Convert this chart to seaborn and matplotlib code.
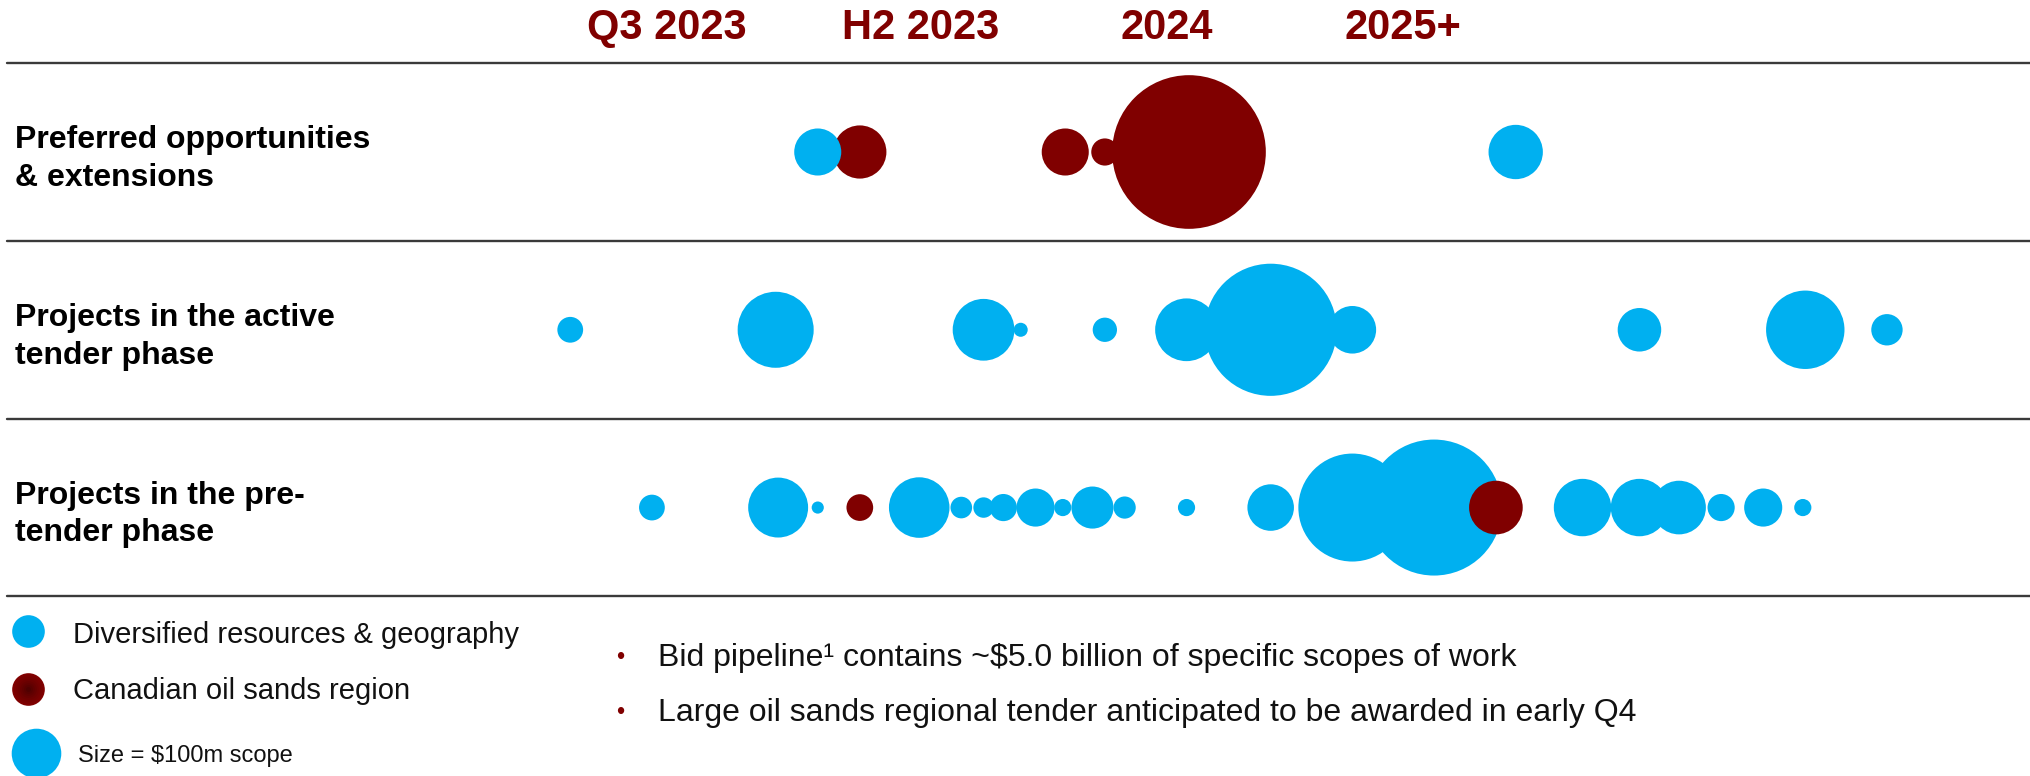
import numpy as np
import pandas as pd
import matplotlib
matplotlib.use("Agg")
import matplotlib.pyplot as plt
import seaborn as sns

sns.set_theme(style="white")
plt.rcParams["font.family"] = ["Liberation Sans", "DejaVu Sans"]

# ---- data -------------------------------------------------------------
periods = ["Q3 2023", "H2 2023", "2024", "2025+"]
period_pos = [0.0, 1.027, 2.021, 2.973]

stages = ["Preferred opportunities\n& extensions",
          "Projects in the active\ntender phase",
          "Projects in the pre-\ntender phase"]

# timing position, scope ($m) and region for each bid, listed in drawing order
pref_timing = [0.78, 0.61, 1.61, 1.77, 2.11, 3.43]
pref_scope = [115, 90, 90, 30, 960, 120]
pref_region = ["oil", "div", "oil", "oil", "oil", "div"]

active_timing = [-0.39, 0.44, 1.28, 1.43, 1.77, 2.10, 2.44, 2.77, 3.93, 4.60, 4.93]
active_scope = [27, 235, 155, 8, 24, 160, 710, 92, 77, 250, 40]
active_region = ["div"] * 11

pre_timing = [-0.06, 0.45, 0.61, 0.78, 1.02, 1.19, 1.28, 1.36, 1.49, 1.60, 1.72,
              1.85, 2.10, 2.44, 2.77, 3.10, 3.35, 3.70, 3.93, 4.09, 4.26, 4.43, 4.59]
pre_scope = [27, 146, 6, 29, 149, 19, 17, 30, 59, 12, 72,
             20, 12, 88, 474, 752, 117, 134, 134, 117, 30, 59, 12]
pre_region = ["div", "div", "div", "oil", "div", "div", "div", "div", "div", "div", "div",
              "div", "div", "div", "div", "div", "oil", "div", "div", "div", "div", "div", "div"]

region_labels = {"div": "Diversified resources & geography",
                 "oil": "Canadian oil sands region"}
region_colors = {"div": "#00B0F0", "oil": "#800000"}
legend_scope = 100

bullets = ["Bid pipeline\u00b9 contains ~$5.0 billion of specific scopes of work",
           "Large oil sands regional tender anticipated to be awarded in early Q4"]

# ---- assemble ---------------------------------------------------------
frames = []
for i, (t, s, r) in enumerate([(pref_timing, pref_scope, pref_region),
                               (active_timing, active_scope, active_region),
                               (pre_timing, pre_scope, pre_region)]):
    frames.append(pd.DataFrame({"timing": t, "scope": s, "region": r, "stage": i}))
df = pd.concat(frames, ignore_index=True)

W, H, DPI = 2031, 776, 100
fig = plt.figure(figsize=(W / DPI, H / DPI), dpi=DPI)
ax = fig.add_axes([0, 0, 1, 1])
ax.set_xlim(-2.694, 5.512)
ax.set_ylim(3.510, -0.855)
ax.axis("off")

# bubble area proportional to scope: points^2 per $m
k = 12.75
vmin, vmax = df["scope"].min(), df["scope"].max()
sns.scatterplot(data=df, x="timing", y="stage", hue="region", palette=region_colors,
                size="scope", sizes=(k * vmin, k * vmax), size_norm=(vmin, vmax),
                linewidth=0, alpha=1, legend=False, ax=ax, zorder=3)

# row dividers
for yb in [-0.5, 0.5, 1.5, 2.5]:
    ax.axhline(yb, xmin=7 / W, xmax=1, color="#3a3a3a", lw=1.7, zorder=1)

# period headers
for p, x in zip(periods, period_pos):
    ax.text(x, -0.70, p, ha="center", va="center", fontsize=30,
            fontweight="bold", color="#800000")

# stage labels
ytr = ax.get_yaxis_transform()
for i, lab in enumerate(stages):
    ax.text(15 / W, i + 0.04, lab, transform=ytr, ha="left", va="center",
            fontsize=23, fontweight="bold", color="black", linespacing=1.32)

# legend
tA = ax.transAxes
ax.scatter([27.7 / W], [1 - 631 / H], s=552, color=region_colors["div"],
           linewidth=0, transform=tA)
# oil sands marker with a darker core
core = np.linspace(1, 0.15, 8)
for j, f in enumerate(core):
    c = np.array([0.5, 0, 0]) * (0.45 + 0.55 * (f ** 0.6))
    ax.scatter([27.7 / W], [1 - 689.3 / H], s=552 * f ** 2, color=c,
               linewidth=0, transform=tA, zorder=4 + j)
ax.scatter([36 / W], [1 - 753.3 / H], s=k * legend_scope, color=region_colors["div"],
           linewidth=0, transform=tA)
ax.text(73.5 / W, 1 - 635 / H, region_labels["div"], transform=tA,
        ha="left", va="center", fontsize=21, color="#111111")
ax.text(73.5 / W, 1 - 690.7 / H, region_labels["oil"], transform=tA,
        ha="left", va="center", fontsize=21, color="#111111")
ax.text(77.7 / W, 1 - 755.7 / H, f"Size = ${legend_scope}m scope", transform=tA,
        ha="left", va="center", fontsize=17, color="#111111")

# notes
for j, (txt, yp) in enumerate(zip(bullets, [658, 712.5])):
    ax.text(616 / W, 1 - yp / H, "\u2022", transform=tA, ha="left", va="center",
            fontsize=17, color="#800000")
    ax.text(658 / W, 1 - yp / H, txt, transform=tA, ha="left", va="center",
            fontsize=23, color="#111111")

fig.savefig("out.png", dpi=DPI, facecolor="white")
